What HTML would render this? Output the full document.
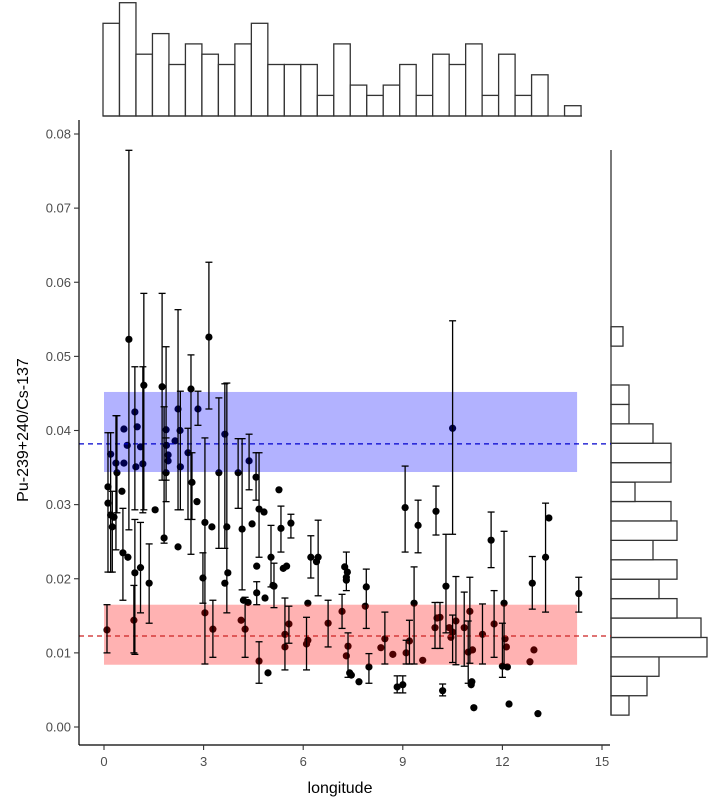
<!DOCTYPE html>
<html><head><meta charset="utf-8"><style>
html,body{margin:0;padding:0;background:#fff;}
svg{display:block;font-family:"Liberation Sans",sans-serif;}
</style></head><body>
<svg id="chart" width="708" height="800" viewBox="0 0 708 800">
<g id="topHist"></g>
<g id="rightHist"></g>
<g id="points"></g>
<g id="bands"></g>
<g id="errbars"></g>
<g id="axes"></g>
<text x="340" y="793" font-size="16" text-anchor="middle" fill="#000">longitude</text>
<text transform="translate(28,430) rotate(-90)" font-size="16" text-anchor="middle" fill="#000">Pu-239+240/Cs-137</text>
</svg>
<script>
const xVals=[0.75,3.16,1.2,1.75,2.62,2.23,2.83,0.93,0.6,1.0,1.87,2.29,2.14,3.64,0.7,1.1,1.88,0.2,1.93,2.53,4.37,0.36,0.6,0.96,1.17,1.93,2.3,1.87,0.39,3.46,4.04,4.58,0.12,2.65,0.54,0.57,0.12,0.2,0.3,0.25,1.54,2.8,4.67,4.82,3.04,3.25,3.7,4.16,4.46,1.81,2.23,0.72,5.03,4.6,0.93,1.1,3.73,1.36,2.98,3.64,4.6,4.85,5.09,4.2,4.34,0.09,0.9,3.04,3.28,4.13,4.25,4.67,4.94,5.27,5.33,5.63,5.12,5.4,5.5,6.23,6.45,6.4,6.14,5.45,5.57,5.45,6.1,6.14,6.75,7.17,7.3,7.25,7.33,7.3,7.9,7.87,7.35,7.3,7.4,7.45,7.68,7.98,8.34,8.46,8.7,9.07,9.46,9.34,9.1,9.2,9.6,8.83,9.0,10.0,9.97,10.03,10.5,10.3,10.12,10.5,10.45,10.4,10.6,10.85,11.02,10.97,11.1,11.08,11.06,11.14,10.2,11.4,11.66,11.75,12.05,12.08,12.12,12.0,12.15,12.9,13.3,13.4,12.95,12.83,13.07,14.3,12.2];
const yVals=[0.0523,0.0526,0.0461,0.0459,0.0456,0.0429,0.0429,0.0425,0.0402,0.0405,0.0401,0.04,0.0386,0.0395,0.038,0.0378,0.038,0.0368,0.0367,0.037,0.0359,0.0356,0.0356,0.0351,0.0355,0.0359,0.0351,0.0343,0.0343,0.0343,0.0343,0.0337,0.0324,0.033,0.0318,0.0235,0.0302,0.0286,0.0283,0.027,0.0293,0.0304,0.0294,0.029,0.0276,0.027,0.027,0.0267,0.0274,0.0255,0.0243,0.0229,0.0229,0.0217,0.0208,0.0215,0.0208,0.0194,0.0201,0.0194,0.0181,0.0174,0.0191,0.0171,0.0168,0.0131,0.0144,0.0154,0.0132,0.0144,0.0132,0.0089,0.0073,0.032,0.0268,0.0275,0.019,0.0214,0.0217,0.0229,0.0229,0.0223,0.0167,0.0125,0.0139,0.0108,0.0112,0.0117,0.014,0.0156,0.0202,0.0216,0.0209,0.0198,0.0189,0.0163,0.0109,0.0096,0.0073,0.007,0.0061,0.0081,0.0107,0.0119,0.0098,0.0296,0.0272,0.0167,0.01,0.0116,0.009,0.0054,0.0057,0.0291,0.0134,0.0147,0.0403,0.019,0.0148,0.0128,0.0121,0.0134,0.0143,0.0134,0.0156,0.0101,0.0104,0.0061,0.0057,0.0026,0.0049,0.0125,0.0252,0.0139,0.0167,0.0119,0.0108,0.0082,0.0081,0.0194,0.0229,0.0282,0.0104,0.0088,0.0018,0.018,0.0031];
const yLo=[0.0266,0.0429,0.0293,0.0333,0.0233,0.0293,0.0407,0.0293,null,null,0.0333,null,null,0.0241,null,null,null,0.0209,null,0.028,0.032,0.0239,null,null,0.0289,null,0.0293,0.0304,0.0289,0.0241,0.0295,0.0306,0.0209,0.028,null,0.0171,null,null,null,0.0209,null,null,0.0229,null,0.0085,null,0.0154,0.0185,null,0.0248,null,null,0.0189,null,0.0098,0.0154,null,0.014,0.0167,null,0.0165,null,null,null,null,0.01,0.01,null,0.0094,null,0.0094,0.0059,null,null,0.0236,0.0255,0.0161,null,null,0.0201,0.0177,null,null,0.0077,0.0113,null,0.0077,null,0.0108,0.0133,0.0184,null,null,null,0.0133,null,0.0067,null,null,null,null,0.0059,null,0.0085,null,0.0236,0.0235,0.0085,0.0085,0.0085,null,0.0046,0.0046,0.0259,0.0106,null,0.026,0.0127,0.0106,0.0087,null,null,0.0084,0.0082,0.0086,0.0059,null,null,null,null,0.0042,0.0085,0.0215,0.0094,0.0084,null,null,0.0067,null,0.0159,0.0155,null,null,null,null,0.0155,null];
const yHi=[0.0778,0.0627,0.0585,0.0585,0.0502,0.0563,0.0453,0.0486,null,null,0.0513,null,null,0.0463,null,null,null,0.0397,null,0.0403,0.0395,0.042,null,null,0.0486,null,0.0453,0.039,0.042,0.0444,0.0389,0.037,0.0397,0.037,null,0.0295,null,null,null,0.0318,null,null,0.037,null,0.039,null,0.0464,0.0389,null,0.0432,null,null,0.0272,null,0.028,0.0276,null,0.0247,0.0235,null,0.0196,null,null,null,null,0.0165,0.0191,null,0.0171,null,0.0175,0.0115,null,null,0.0298,0.0287,0.0221,null,null,0.0258,0.0279,null,null,0.0174,0.0163,null,0.0148,null,0.0171,0.0179,0.0236,null,null,null,0.0213,null,0.0127,null,null,null,null,0.0099,null,0.0155,null,0.0352,0.0306,0.0216,0.0117,0.0144,null,0.0069,0.0069,0.0325,0.0168,null,0.0548,0.026,0.0168,0.0151,null,null,0.0203,0.0182,0.0202,0.0143,null,null,null,null,0.0058,0.0166,0.029,0.0184,0.0264,null,null,0.014,null,0.023,0.0302,null,null,null,null,0.0202,null];
const topCounts=[9,11,6,8,5,7,6,5,7,9,5,5,5,2,7,3,2,3,5,2,6,5,7,2,6,2,4,0,1];
const rightCounts=[3,6,8,16,15,11,8,11,7,11,10,4,10,10,7,3,3,0,0,2];
const xTicks=[0,3,6,9,12,15];
const yTicks=[0,0.01,0.02,0.03,0.04,0.05,0.06,0.07,0.08];
const yTickLabels=["0.00","0.01","0.02","0.03","0.04","0.05","0.06","0.07","0.08"];
const blueBand=[0.0344,0.0452], blueLine=0.0382;
const redBand=[0.0084,0.0165], redLine=0.01228;
const bandX=[0,14.25];
const topBinStart=-0.03, topBinW=0.4965, rightBinStart=0.0016, rightBinW=0.00262;

const NS="http://www.w3.org/2000/svg";
const X=v=>104+v*33.2;
const Y=v=>727-v*7412.5;
function mk(tag,attrs,parent){const e=document.createElementNS(NS,tag);for(const k in attrs)e.setAttribute(k,attrs[k]);parent.appendChild(e);return e;}
const gT=document.getElementById('topHist'),gR=document.getElementById('rightHist'),gP=document.getElementById('points'),gB=document.getElementById('bands'),gE=document.getElementById('errbars'),gA=document.getElementById('axes');

topCounts.forEach((c,i)=>{if(!c)return;const x0=X(topBinStart+i*topBinW),x1=X(topBinStart+(i+1)*topBinW),h=c*10.3;
const r=mk('rect',{x:x0,y:116-h,width:x1-x0,height:h,fill:'#fff',stroke:'#333','stroke-width':1.3},gT);

});
mk('line',{x1:103,x2:582,y1:116,y2:116,stroke:'#333','stroke-width':1.3},gT);
rightCounts.forEach((c,i)=>{if(!c)return;const y0=Y(rightBinStart+(i+1)*rightBinW),y1=Y(rightBinStart+i*rightBinW),w=c*6;
const r=mk('rect',{x:611,y:y0,width:w,height:y1-y0,fill:'#fff',stroke:'#333','stroke-width':1.3},gR);

});
mk('line',{x1:611,x2:611,y1:150,y2:Y(rightBinStart),stroke:'#333','stroke-width':1.3},gR);

xVals.forEach((xv,i)=>{const c=mk('circle',{cx:X(xv),cy:Y(yVals[i]),r:3.6,fill:'#000'},gP);

});

const bb=mk('rect',{x:X(bandX[0]),y:Y(blueBand[1]),width:X(bandX[1])-X(bandX[0]),height:Y(blueBand[0])-Y(blueBand[1]),fill:'rgba(0,0,255,0.3)'},gB);


const rb=mk('rect',{x:X(bandX[0]),y:Y(redBand[1]),width:X(bandX[1])-X(bandX[0]),height:Y(redBand[0])-Y(redBand[1]),fill:'rgba(255,0,0,0.3)'},gB);


const bl=mk('line',{x1:79,x2:611,y1:Y(blueLine),y2:Y(blueLine),stroke:'#0000cc','stroke-width':1.3,'stroke-dasharray':'5,4'},gB);


const rl=mk('line',{x1:79,x2:611,y1:Y(redLine),y2:Y(redLine),stroke:'#cc2222','stroke-width':1.3,'stroke-dasharray':'5,4'},gB);



xVals.forEach((xv,i)=>{if(yLo[i]==null)return;const x=X(xv),a=Y(yHi[i]),b=Y(yLo[i]);
const g=mk('g',{stroke:'#000','stroke-width':1.3},gE);


mk('line',{x1:x,x2:x,y1:a,y2:b},g);mk('line',{x1:x-3.5,x2:x+3.5,y1:a,y2:a},g);mk('line',{x1:x-3.5,x2:x+3.5,y1:b,y2:b},g);});

mk('line',{x1:79,x2:79,y1:120,y2:745,stroke:'#000','stroke-width':1.2},gA);
mk('line',{x1:79,x2:610,y1:745,y2:745,stroke:'#000','stroke-width':1.2},gA);
xTicks.forEach(t=>{mk('line',{x1:X(t),x2:X(t),y1:745,y2:750,stroke:'#333','stroke-width':1.1},gA);
const tx=mk('text',{x:X(t),y:766,'font-size':13,'text-anchor':'middle',fill:'#4d4d4d'},gA);tx.textContent=t;

});
yTicks.forEach((t,i)=>{mk('line',{x1:74,x2:79,y1:Y(t),y2:Y(t),stroke:'#333','stroke-width':1.1},gA);
const tx=mk('text',{x:71,y:Y(t)+4.5,'font-size':13,'text-anchor':'end',fill:'#4d4d4d'},gA);tx.textContent=yTickLabels[i];

});
</script>
</body></html>
